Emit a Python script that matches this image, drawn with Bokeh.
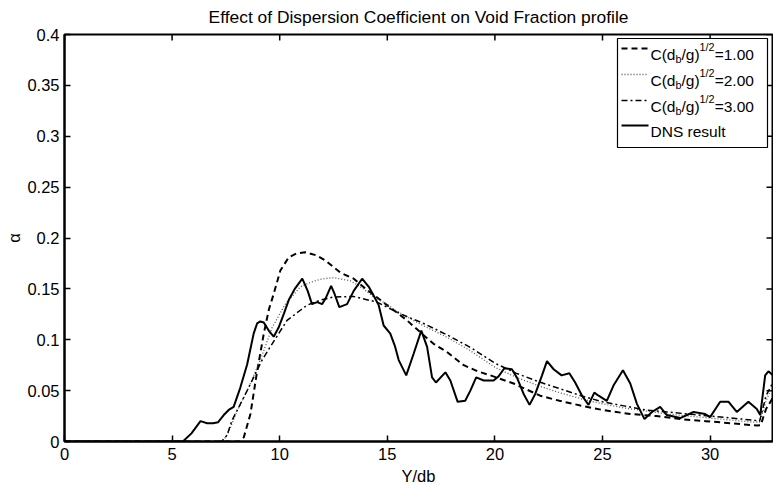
from bokeh.plotting import figure
from bokeh.models import Range1d, FixedTicker
from bokeh.core.properties import value
from bokeh.embed import file_html
from bokeh.resources import INLINE

# ---------------------------------------------------------------- data
# Void fraction profiles across the channel (Y/db) for three dispersion
# coefficients, plus the DNS reference profile.
y_c1 = [0.0, 8.15, 8.33, 8.64, 8.92, 9.26, 9.5, 9.72, 10.03, 10.42, 10.8, 11.19,
        11.7, 12.12, 12.82, 13.44, 14.0, 14.68, 15.3, 15.92, 16.5, 17.15, 17.77,
        18.55, 19.2, 19.79, 20.87, 22.1, 23.0, 23.97, 25.0, 26.29, 27.5, 28.61,
        29.8, 30.93, 32.17, 32.35, 32.6, 32.92]
a_c1 = [0.0, 0.0, 0.004, 0.027, 0.065, 0.106, 0.130, 0.145, 0.168, 0.181, 0.185,
        0.186, 0.183, 0.178, 0.166, 0.160, 0.150, 0.139, 0.129, 0.119, 0.108,
        0.096, 0.088, 0.075, 0.069, 0.065, 0.057, 0.045, 0.040, 0.0354, 0.031,
        0.027, 0.025, 0.022, 0.020, 0.018, 0.0157, 0.016, 0.032, 0.043]

y_c2 = [0.0, 7.35, 7.6, 8.02, 8.56, 9.1, 9.65, 10.26, 10.96, 11.5, 12.0, 12.51,
        13.28, 13.9, 14.37, 14.99, 15.3, 16.38, 16.85, 17.77, 18.8, 20.0, 21.0,
        22.0, 23.0, 24.0, 25.0, 26.0, 27.0, 28.0, 29.0, 30.0, 31.0, 32.0, 32.3,
        32.6, 32.92]
a_c2 = [0.0, 0.0, 0.008, 0.030, 0.053, 0.080, 0.112, 0.135, 0.152, 0.157, 0.160,
        0.161, 0.158, 0.150, 0.142, 0.135, 0.130, 0.117, 0.112, 0.1025, 0.090,
        0.073, 0.063, 0.055, 0.048, 0.042, 0.037, 0.033, 0.030, 0.027, 0.025,
        0.023, 0.021, 0.019, 0.019, 0.040, 0.055]

y_c3 = [0.0, 7.3, 7.55, 7.79, 8.25, 8.72, 9.18, 9.65, 10.34, 10.96, 11.27, 11.9,
        12.51, 13.44, 14.52, 15.6, 16.69, 17.85, 18.9, 20.0, 21.0, 22.0, 23.0,
        24.0, 25.0, 26.0, 27.0, 28.0, 29.0, 30.0, 31.0, 32.0, 32.3, 32.6, 32.92]
a_c3 = [0.0, 0.0, 0.006, 0.021, 0.040, 0.060, 0.080, 0.096, 0.119, 0.129, 0.134,
        0.139, 0.142, 0.1425, 0.137, 0.1255, 0.116, 0.104, 0.092, 0.077, 0.067,
        0.059, 0.052, 0.045, 0.039, 0.035, 0.031, 0.029, 0.027, 0.025, 0.023,
        0.021, 0.020, 0.045, 0.058]

y_dns = [0.0, 5.5, 5.9, 6.32, 6.63, 6.9, 7.14, 7.4, 7.63, 7.86, 8.17, 8.49, 8.79,
         8.95, 9.1, 9.26, 9.49, 9.72, 9.95, 10.2, 10.42, 10.7, 11.05, 11.3, 11.5,
         11.74, 11.97, 12.12, 12.39, 12.55, 12.77, 13.13, 13.44, 13.83, 14.14,
         14.4, 14.6, 14.83, 15.14, 15.35, 15.53, 15.88, 16.22, 16.58, 16.85,
         17.08, 17.26, 17.7, 17.93, 18.27, 18.62, 18.86, 19.13, 19.48, 19.94,
         20.17, 20.44, 20.79, 21.02, 21.33, 21.61, 21.88, 22.19, 22.42, 22.73,
         23.1, 23.46, 23.73, 24.05, 24.35, 24.62, 24.82, 25.2, 25.51, 25.95,
         26.29, 26.6, 26.95, 27.3, 27.68, 27.99, 28.61, 29.23, 29.77, 30.0,
         30.47, 30.86, 31.24, 31.78, 32.17, 32.33, 32.56, 32.71, 32.92]
a_dns = [0.0, 0.0, 0.008, 0.020, 0.018, 0.018, 0.019, 0.026, 0.031, 0.034, 0.053,
         0.076, 0.106, 0.116, 0.118, 0.117, 0.109, 0.103, 0.112, 0.126, 0.139,
         0.150, 0.160, 0.148, 0.135, 0.137, 0.135, 0.140, 0.153, 0.145, 0.132,
         0.135, 0.148, 0.160, 0.152, 0.142, 0.134, 0.114, 0.106, 0.094, 0.080,
         0.065, 0.086, 0.109, 0.093, 0.063, 0.058, 0.068, 0.060, 0.039, 0.040,
         0.050, 0.063, 0.060, 0.060, 0.064, 0.072, 0.071, 0.063, 0.047, 0.036,
         0.047, 0.065, 0.079, 0.071, 0.065, 0.067, 0.058, 0.045, 0.036, 0.048,
         0.045, 0.040, 0.055, 0.070, 0.057, 0.037, 0.022, 0.029, 0.034, 0.026,
         0.023, 0.029, 0.027, 0.024, 0.039, 0.039, 0.029, 0.039, 0.032, 0.026,
         0.065, 0.069, 0.065]

x_ticks = [0, 5, 10, 15, 20, 25, 30]
y_ticks = [0, 0.05, 0.1, 0.15, 0.2, 0.25, 0.3, 0.35, 0.4]
y_tick_labels = ["0", "0.05", "0.1", "0.15", "0.2", "0.25", "0.3", "0.35", "0.4"]

title_text = "Effect of Dispersion Coefficient on Void Fraction profile"
coef_values = ["1.00", "2.00", "3.00"]
dns_label = "DNS result"

# ---------------------------------------------------------------- layout
FONT = "Liberation Sans"
FS = 16.5
LEG_FS = 15.5
X_END, Y_END = 32.9, 0.4
FRAME_L, FRAME_T, FRAME_W, FRAME_H = 64, 34, 708, 407
TICK = 6

p = figure(frame_width=FRAME_W, frame_height=FRAME_H,
           x_range=Range1d(0, X_END), y_range=Range1d(0, Y_END),
           output_backend="svg", toolbar_location=None,
           min_border_left=FRAME_L, min_border_right=1,
           min_border_top=FRAME_T, min_border_bottom=45,
           title=title_text)

p.title.text_font = FONT
p.title.text_font_size = "17.4px"
p.title.text_font_style = "normal"
p.title.text_color = "black"
p.title.align = "center"
p.title.vertical_align = "top"
p.title.standoff = 12

p.xgrid.visible = False
p.ygrid.visible = False
p.outline_line_color = "black"
p.outline_line_width = 2
p.background_fill_color = "white"
p.border_fill_color = "white"

p.xaxis.ticker = FixedTicker(ticks=x_ticks)
p.yaxis.ticker = FixedTicker(ticks=y_ticks)
p.yaxis.major_label_overrides = dict(zip(y_ticks, y_tick_labels))

for ax in p.xaxis + p.yaxis:
    ax.axis_line_color = "black"
    ax.axis_line_width = 2
    ax.major_tick_line_color = "black"
    ax.major_tick_line_width = 1.5
    ax.major_tick_in = TICK
    ax.major_tick_out = 0
    ax.minor_tick_line_color = None
    ax.major_label_text_font = FONT
    ax.major_label_text_font_size = f"{FS}px"
    ax.major_label_text_color = "black"
    ax.major_label_standoff = 6
    ax.axis_label_text_font = FONT
    ax.axis_label_text_font_size = f"{FS}px"
    ax.axis_label_text_font_style = "normal"
    ax.axis_label_text_color = "black"
    ax.axis_label_standoff = 4

p.yaxis.major_label_standoff = 5
p.yaxis.axis_label_standoff = 1
p.xaxis.axis_label = "Y/db"
p.yaxis.axis_label = "\u03b1"


def px_x(px):
    return X_END * (px - FRAME_L) / FRAME_W


def px_y(py):
    return Y_END * (FRAME_T + FRAME_H - py) / FRAME_H


# inward ticks mirrored on the top and right edges of the box
dy_tick = Y_END * TICK / FRAME_H
dx_tick = X_END * TICK / FRAME_W
p.segment(x0=x_ticks, y0=[Y_END] * len(x_ticks), x1=x_ticks,
          y1=[Y_END - dy_tick] * len(x_ticks), line_color="black", line_width=1.5)
p.segment(x0=[X_END] * len(y_ticks), y0=y_ticks,
          x1=[X_END - dx_tick] * len(y_ticks), y1=y_ticks,
          line_color="black", line_width=1.5)

# ---------------------------------------------------------------- curves
dash1 = dict(line_color="black", line_width=2, line_dash="6 4")
dash2 = dict(line_color="#555555", line_width=1.3, line_dash="1 2")
dash3 = dict(line_color="black", line_width=1.5, line_dash="6 3 2 3")
solid = dict(line_color="black", line_width=2)

p.line(y_c1, a_c1, **dash1)
p.line(y_c2, a_c2, **dash2)
p.line(y_c3, a_c3, **dash3)
p.line(y_dns, a_dns, **solid)

# ---------------------------------------------------------------- legend
box_l, box_r, box_t, box_b = 617, 767, 38, 147
p.quad(left=[px_x(box_l)], right=[px_x(box_r)], top=[px_y(box_t)],
       bottom=[px_y(box_b)], fill_color="white", line_color="black",
       line_width=1.2)

row_centers = [48, 74, 100, 125]
styles = [dash1, dash2, dash3, solid]
for rc, st in zip(row_centers, styles):
    p.line([px_x(621), px_x(648)], [px_y(rc), px_y(rc)], **st)

SUB = 0.7 * LEG_FS
txt_font = value(FONT)


def put(x_px, base_px, text, size):
    p.text(x=[px_x(x_px)], y=[px_y(base_px)], text=[text],
           text_font=txt_font, text_font_size=value(f"{size:.1f}px"),
           text_baseline="alphabetic", text_align="left", text_color="black")


# Arial-like advance widths (em) for the pieces of C(d_b/g)^{1/2}=v
W_MAIN1 = 0.722 + 0.333 + 0.556
W_SUB = 0.556
W_MAIN2 = 0.278 + 0.556 + 0.333
W_SUP = 0.556 + 0.278 + 0.556

for rc, v in zip(row_centers[:3], coef_values):
    base = rc + 0.36 * LEG_FS
    x0 = 650
    put(x0, base, "C(d", LEG_FS)
    x1 = x0 + W_MAIN1 * LEG_FS
    put(x1, base + 0.3 * LEG_FS, "b", SUB)
    x2 = x1 + W_SUB * SUB
    put(x2, base, "/g)", LEG_FS)
    x3 = x2 + W_MAIN2 * LEG_FS
    put(x3, base - 0.45 * LEG_FS, "1/2", SUB)
    x4 = x3 + W_SUP * SUB
    put(x4, base, "=" + v, LEG_FS)

put(650, row_centers[3] + 0.36 * LEG_FS, dns_label, LEG_FS)

open("out.html", "w").write(file_html(p, INLINE))
